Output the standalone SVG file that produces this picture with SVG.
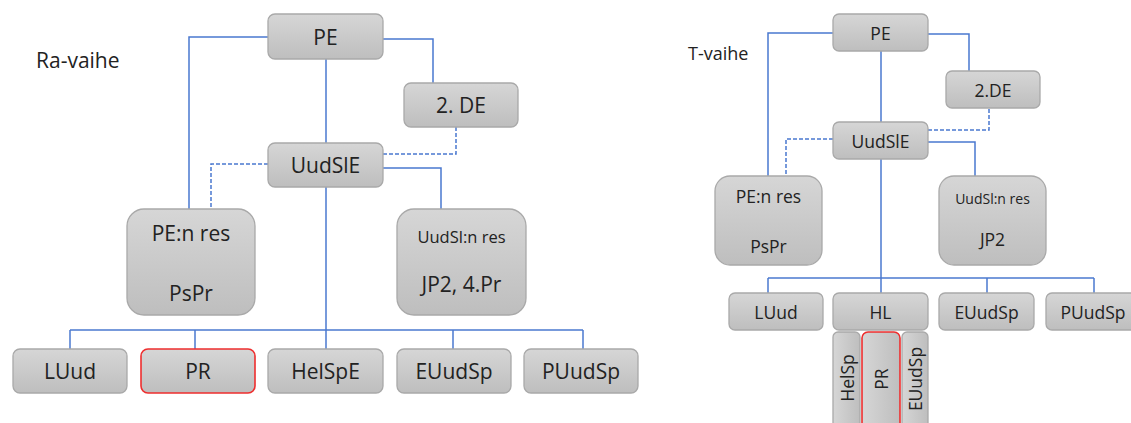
<svg xmlns="http://www.w3.org/2000/svg" width="1131" height="423" viewBox="0 0 1131 423">
<defs>
<linearGradient id="g" x1="0" y1="0" x2="0" y2="1">
<stop offset="0" stop-color="#d6d6d6"/>
<stop offset="1" stop-color="#bebebe"/>
</linearGradient>
<linearGradient id="gh" x1="0" y1="0" x2="1" y2="0">
<stop offset="0" stop-color="#d6d6d6"/>
<stop offset="1" stop-color="#bebebe"/>
</linearGradient>
<style>
.b{fill:url(#g);stroke:#a9a9a9;stroke-width:1.3}
.bv{fill:url(#gh);stroke:#a9a9a9;stroke-width:1.3}
.red{stroke:#ee2e2e;stroke-width:1.6}
.c{fill:none;stroke:#4a78cf;stroke-width:1.5}
.d{fill:none;stroke:#4a78cf;stroke-width:1.5;stroke-dasharray:4 2}
text{font-family:"Open Sans","Noto Sans",sans-serif;fill:#222222;text-anchor:middle;dominant-baseline:central}
.L{font-size:21px}
.S{font-size:17.5px}
.ttl{text-anchor:start}
</style>
</defs>
<rect width="1131" height="423" fill="#ffffff"/>

<text class="ttl" x="36" y="60" style="font-size:21px">Ra-vaihe</text>
<text class="ttl" x="688" y="53" style="font-size:18px">T-vaihe</text>

<g id="connectors">
<!-- left -->
<polyline class="c" points="268,37 189,37 189,209"/>
<polyline class="c" points="383,39 433,39 433,83"/>
<line class="c" x1="326" y1="59" x2="326" y2="143"/>
<polyline class="d" points="383,154 456,154 456,127"/>
<polyline class="d" points="268,164 211,164 211,209"/>
<polyline class="c" points="383,168 441,168 441,209"/>
<line class="c" x1="326" y1="187" x2="326" y2="349"/>
<line class="c" x1="70" y1="330" x2="583" y2="330"/>
<line class="c" x1="70" y1="330" x2="70" y2="349"/>
<line class="c" x1="195" y1="330" x2="195" y2="349"/>
<line class="c" x1="453" y1="330" x2="453" y2="349"/>
<line class="c" x1="583" y1="330" x2="583" y2="349"/>
<!-- right -->
<polyline class="c" points="833,33 768,33 768,176"/>
<polyline class="c" points="928,34 969,34 969,71"/>
<line class="c" x1="881" y1="51" x2="881" y2="122"/>
<polyline class="d" points="928,130 989,130 989,108"/>
<polyline class="d" points="833,139 786,139 786,176"/>
<polyline class="c" points="928,142 975,142 975,176"/>
<line class="c" x1="881" y1="159" x2="881" y2="293"/>
<line class="c" x1="768" y1="278" x2="1094" y2="278"/>
<line class="c" x1="768" y1="278" x2="768" y2="293"/>
<line class="c" x1="987" y1="278" x2="987" y2="293"/>
<line class="c" x1="1094" y1="278" x2="1094" y2="293"/>
</g>

<!-- left diagram nodes -->
<g id="L-PE"><rect class="b" x="268" y="14" width="115" height="45" rx="7"/><text class="L" x="325.5" y="36.5">PE</text></g>
<g id="L-2DE"><rect class="b" x="404" y="83" width="114" height="44" rx="7"/><text class="L" x="461" y="105">2. DE</text></g>
<g id="L-UudSlE"><rect class="b" x="268" y="143" width="115" height="44" rx="7"/><text class="L" x="325.5" y="165">UudSlE</text></g>
<g id="L-PEres"><rect class="b" x="127" y="209" width="128" height="106" rx="17"/><text class="L" x="191" y="233">PE:n res</text><text class="L" x="191" y="293">PsPr</text></g>
<g id="L-UudSlres"><rect class="b" x="397" y="209" width="129" height="106" rx="17"/><text x="461.5" y="236" style="font-size:16.5px">UudSl:n res</text><text class="L" x="461.5" y="284">JP2, 4.Pr</text></g>
<g id="L-LUud"><rect class="b" x="13" y="349" width="114" height="44" rx="7"/><text class="L" x="70" y="371">LUud</text></g>
<g id="L-PR"><rect class="b red" x="141" y="349" width="114" height="44" rx="7"/><text class="L" x="198" y="371">PR</text></g>
<g id="L-HelSpE"><rect class="b" x="268" y="349" width="115" height="44" rx="7"/><text class="L" x="325.5" y="371">HelSpE</text></g>
<g id="L-EUudSp"><rect class="b" x="397" y="349" width="114" height="44" rx="7"/><text class="L" x="454" y="371">EUudSp</text></g>
<g id="L-PUudSp"><rect class="b" x="524" y="349" width="114" height="44" rx="7"/><text class="L" x="581" y="371">PUudSp</text></g>

<!-- right diagram nodes -->
<g id="R-PE"><rect class="b" x="833" y="14" width="95" height="37" rx="6"/><text class="S" x="880.5" y="32.5">PE</text></g>
<g id="R-2DE"><rect class="b" x="946" y="71" width="94" height="37" rx="6"/><text class="S" x="993" y="89.5">2.DE</text></g>
<g id="R-UudSlE"><rect class="b" x="833" y="122" width="95" height="37" rx="6"/><text class="S" x="880.5" y="140.5">UudSlE</text></g>
<g id="R-PEres"><rect class="b" x="715" y="176" width="107" height="89" rx="15"/><text class="S" x="768.5" y="196">PE:n res</text><text class="S" x="768.5" y="246">PsPr</text></g>
<g id="R-UudSlres"><rect class="b" x="939" y="176" width="107" height="89" rx="15"/><text x="992.5" y="198" style="font-size:14px">UudSl:n res</text><text class="S" x="992.5" y="239">JP2</text></g>
<g id="R-LUud"><rect class="b" x="729" y="293" width="94" height="37" rx="6"/><text class="S" x="776" y="312">LUud</text></g>
<g id="R-HL"><rect class="b" x="833" y="293" width="95" height="37" rx="6"/><text class="S" x="880.5" y="312">HL</text></g>
<g id="R-EUudSp"><rect class="b" x="939" y="293" width="95" height="37" rx="6"/><text class="S" x="986.5" y="312">EUudSp</text></g>
<g id="R-PUudSp"><rect class="b" x="1046" y="293" width="95" height="37" rx="6"/><text class="S" x="1093" y="312">PUudSp</text></g>
<g id="R-HelSp"><rect class="bv" x="833" y="332" width="27" height="110" rx="5"/><text class="S" transform="translate(847,378) rotate(-90)" x="0" y="0">HelSp</text></g>
<g id="R-PR"><rect class="bv red" x="862" y="332" width="38" height="110" rx="6"/><text class="S" transform="translate(881,379) rotate(-90)" x="0" y="0">PR</text></g>
<g id="R-EUudSp2"><rect class="bv" x="902" y="332" width="26" height="110" rx="5"/><text class="S" transform="translate(915,379) rotate(-90)" x="0" y="0">EUudSp</text></g>
</svg>
